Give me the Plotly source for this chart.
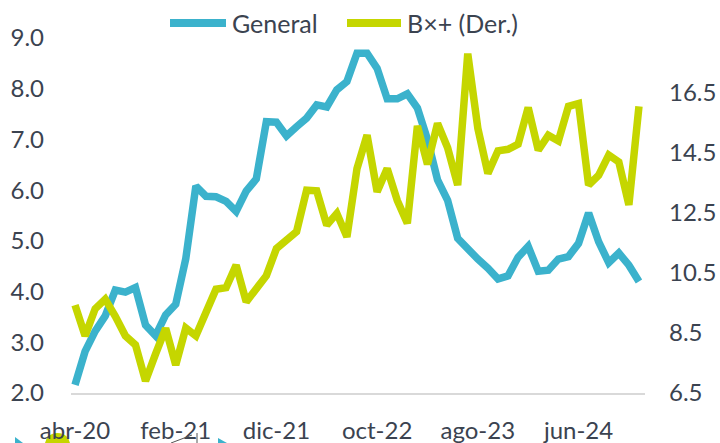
import plotly.graph_objects as go

# ---------------- data ----------------
month_abbr = ["ene", "feb", "mar", "abr", "may", "jun", "jul", "ago", "sep", "oct", "nov", "dic"]
start_year, start_month, n_months = 2020, 4, 57
categories = []
for k in range(n_months):
    m = (start_month - 1 + k) % 12
    y = start_year + (start_month - 1 + k) // 12
    categories.append(f"{month_abbr[m]}-{str(y)[2:]}")

general = [2.16, 2.82, 3.22, 3.52, 4.03, 3.99, 4.08, 3.34, 3.13, 3.54,
           3.75, 4.65, 6.08, 5.88, 5.87, 5.78, 5.58, 5.98, 6.22, 7.35,
           7.34, 7.07, 7.25, 7.42, 7.68, 7.64, 7.98, 8.14, 8.70, 8.70,
           8.40, 7.80, 7.80, 7.90, 7.62, 7.00, 6.20, 5.80, 5.05, 4.82,
           4.64, 4.46, 4.25, 4.31, 4.68, 4.89, 4.40, 4.42, 4.64, 4.69,
           4.95, 5.55, 4.98, 4.57, 4.76, 4.52, 4.20]

bxmas = [9.42, 8.40, 9.30, 9.62, 9.05, 8.40, 8.10, 6.90, 7.80, 8.65,
         7.43, 8.66, 8.40, 9.17, 9.95, 10.00, 10.75, 9.53, 9.98, 10.40,
         11.30, 11.60, 11.86, 13.24, 13.22, 12.08, 12.47, 11.69, 13.96, 15.07,
         13.19, 13.96, 12.90, 12.14, 15.38, 14.10, 15.46, 14.65, 13.41, 17.78,
         15.30, 13.80, 14.55, 14.60, 14.77, 15.99, 14.57, 15.07, 14.88, 16.03,
         16.12, 13.41, 13.74, 14.41, 14.18, 12.75, 16.03]

tick_labels = ["abr-20", "feb-21", "dic-21", "oct-22", "ago-23", "jun-24"]
left_ticks = [2, 3, 4, 5, 6, 7, 8, 9]
right_ticks = [6.5, 8.5, 10.5, 12.5, 14.5, 16.5]

series_names = ["General", "B×+ (Der.)"]
colors = ["#3BB2CC", "#C5D600"]

# ---------------- layout helpers ----------------
W, H = 720, 443
L, R, T, B = 71, 75, 38, 50
PW, PH = W - L - R, H - T - B


def px_x(px):
    return (px - L) / PW


def px_y(py):
    return (H - B - py) / PH


text_color = "#3B4350"
font_family = "Lato, 'Open Sans', sans-serif"

fig = go.Figure()
fig.add_trace(go.Scatter(x=categories, y=general, name=series_names[0], mode="lines",
                         line=dict(color=colors[0], width=7.5), yaxis="y"))
fig.add_trace(go.Scatter(x=categories, y=bxmas, name=series_names[1], mode="lines",
                         line=dict(color=colors[1], width=7.5), yaxis="y2"))

shapes = []
annotations = []
# manual legend
legend_items = [(170, 226, 230, 0), (347, 401, 405, 1)]
for x0, x1, tx, idx in legend_items:
    shapes.append(dict(type="line", xref="paper", yref="paper",
                       x0=px_x(x0), x1=px_x(x1), y0=px_y(23), y1=px_y(23),
                       line=dict(color=colors[idx], width=8)))
    annotations.append(dict(xref="paper", yref="paper", x=px_x(tx), y=px_y(23),
                            xanchor="left", yanchor="middle", showarrow=False,
                            text=series_names[idx],
                            font=dict(family=font_family, size=25, color=text_color)))

# cropped fragments at the bottom-left edge of the picture
def path_from(points):
    return "M " + " L ".join(f"{px_x(a):.5f},{px_y(b):.5f}" for a, b in points) + " Z"

shapes.append(dict(type="path", xref="paper", yref="paper",
                   path=path_from([(15, 437), (23, 443), (15, 443)]),
                   fillcolor=colors[0], line=dict(width=0)))
shapes.append(dict(type="circle", xref="paper", yref="paper",
                   x0=px_x(45), x1=px_x(70), y0=px_y(433), y1=px_y(455),
                   fillcolor=colors[1], line=dict(width=0), layer="below"))
shapes.append(dict(type="line", xref="paper", yref="paper",
                   x0=px_x(171), x1=px_x(192), y0=px_y(443), y1=px_y(435),
                   line=dict(color="#555555", width=1)))
shapes.append(dict(type="line", xref="paper", yref="paper",
                   x0=px_x(197), x1=px_x(197), y0=px_y(433), y1=px_y(443),
                   line=dict(color="#555555", width=1)))
shapes.append(dict(type="path", xref="paper", yref="paper",
                   path=path_from([(218, 438), (227, 443), (218, 443)]),
                   fillcolor=colors[0], line=dict(width=0)))

fig.update_layout(
    width=W, height=H,
    margin=dict(l=L, r=R, t=T, b=B, pad=0),
    paper_bgcolor="white", plot_bgcolor="white",
    showlegend=False,
    font=dict(family=font_family, size=24, color=text_color),
    xaxis=dict(type="category", range=[-0.4, n_months - 1 + 0.6],
               tickmode="array", tickvals=tick_labels, ticktext=tick_labels,
               showgrid=False, zeroline=False, showline=True,
               linecolor="#D9D9D9", linewidth=2, ticks="",
               ticklabelstandoff=15, automargin=False,
               tickfont=dict(family=font_family, size=24, color=text_color)),
    yaxis=dict(range=[2, 9], tickmode="array", tickvals=left_ticks,
               tickformat=".1f", showgrid=False, zeroline=False, showline=False,
               ticks="", ticklabelstandoff=26, automargin=False,
               tickfont=dict(family=font_family, size=24, color=text_color)),
    yaxis2=dict(range=[6.5, 18.3], overlaying="y", side="right",
                tickmode="array", tickvals=right_ticks, tickformat=".1f",
                showgrid=False, zeroline=False, showline=False,
                ticks="", ticklabelstandoff=23, automargin=False,
                tickfont=dict(family=font_family, size=24, color=text_color)),
    shapes=shapes,
    annotations=annotations,
)

fig.write_html("out.html", config={"displayModeBar": False},
               post_script="document.body.style.margin='0px';document.body.style.overflow='hidden';")
